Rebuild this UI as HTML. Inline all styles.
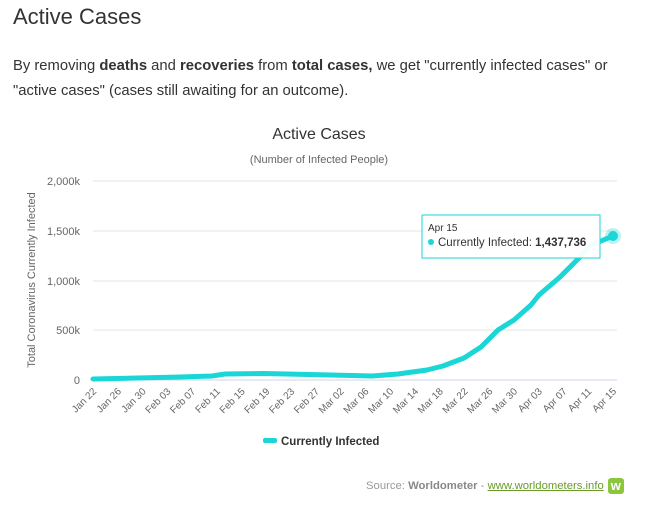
<!DOCTYPE html><html><head><style>
body{margin:0;width:650px;height:511px;background:#fff;font-family:"Liberation Sans",sans-serif;overflow:hidden;position:relative}
h1{position:absolute;left:13px;top:4px;margin:0;font-size:22px;font-weight:normal;color:#333}
p{position:absolute;left:13px;top:54px;margin:0;font-size:14.8px;line-height:25px;color:#333;width:630px}
.src{position:absolute;left:366px;top:478px;font-size:11.3px;color:#999}
.src b{color:#888}.src u{color:#6a9a2a}
.w{display:inline-block;width:16px;height:16px;background:#8cc63f;border-radius:3px;color:#fff;font-weight:bold;text-align:center;line-height:16px;font-size:13px;vertical-align:middle;margin-left:4px}
</style></head><body>
<h1>Active Cases</h1>
<p>By removing <b>deaths</b> and <b>recoveries</b> from <b>total cases,</b> we get "currently infected cases" or "active cases" (cases still awaiting for an outcome).</p>
<svg width="650" height="511" style="position:absolute;left:0;top:0" font-family="Liberation Sans,sans-serif">
<text x="319" y="139" text-anchor="middle" font-size="16" fill="#333">Active Cases</text>
<text x="319" y="163" text-anchor="middle" font-size="11" fill="#666">(Number of Infected People)</text>
<g stroke="#e6e6e6"><line x1="93" x2="617" y1="181" y2="181"/><line x1="93" x2="617" y1="231" y2="231"/><line x1="93" x2="617" y1="281" y2="281"/><line x1="93" x2="617" y1="330" y2="330"/></g>
<line x1="93" x2="617" y1="380" y2="380" stroke="#ccd6eb"/>
<g font-size="11" fill="#666" text-anchor="end"><text x="80" y="185">2,000k</text><text x="80" y="235">1,500k</text><text x="80" y="285">1,000k</text><text x="80" y="334">500k</text><text x="80" y="384">0</text></g>
<text transform="translate(35,280) rotate(-90)" text-anchor="middle" font-size="11" fill="#666">Total Coronavirus Currently Infected</text>
<g font-size="10" fill="#666" text-anchor="end" id="xl"></g>
<path d="M93,379 L180,377 L212,376 L225,374 L264,373.5 L331,375 L372,376 L398,374 L427,370 L443,366 L464,358 L481,347 L498,330 L514,320 L531,305 L539,295 L560,277 L580,257 L589,246 L613,236" fill="none" stroke="#1ad6d6" stroke-width="5" stroke-linejoin="round" stroke-linecap="round"/>
<circle cx="613" cy="236" r="8" fill="#1ad6d6" opacity=".3"/><circle cx="613" cy="236" r="5" fill="#1ad6d6"/>
<rect x="422" y="215" width="178" height="43" fill="#fff" fill-opacity=".95" stroke="#1ad6d6"/>
<text x="428" y="231" font-size="10" fill="#333">Apr 15</text>
<circle cx="431" cy="242" r="3" fill="#1ad6d6"/>
<text x="438" y="246" font-size="11.5" fill="#333">Currently Infected: <tspan font-weight="bold">1,437,736</tspan></text>
<rect x="263" y="438" width="14" height="5" rx="2" fill="#1ad6d6"/>
<text x="281" y="445" font-size="11.5" font-weight="bold" fill="#333">Currently Infected</text>
</svg>
<div class="src">Source: <b>Worldometer</b> - <u>www.worldometers.info</u><span class="w">w</span></div>
<script>
var l=["Jan 22","Jan 26","Jan 30","Feb 03","Feb 07","Feb 11","Feb 15","Feb 19","Feb 23","Feb 27","Mar 02","Mar 06","Mar 10","Mar 14","Mar 18","Mar 22","Mar 26","Mar 30","Apr 03","Apr 07","Apr 11","Apr 15"],g=document.getElementById('xl'),s='';
l.forEach(function(t,i){var x=93+i*24.76+4,y=392;s+='<text transform="translate('+x+','+y+') rotate(-45)">'+t+'</text>';});g.innerHTML=s;
</script>
</body></html>
